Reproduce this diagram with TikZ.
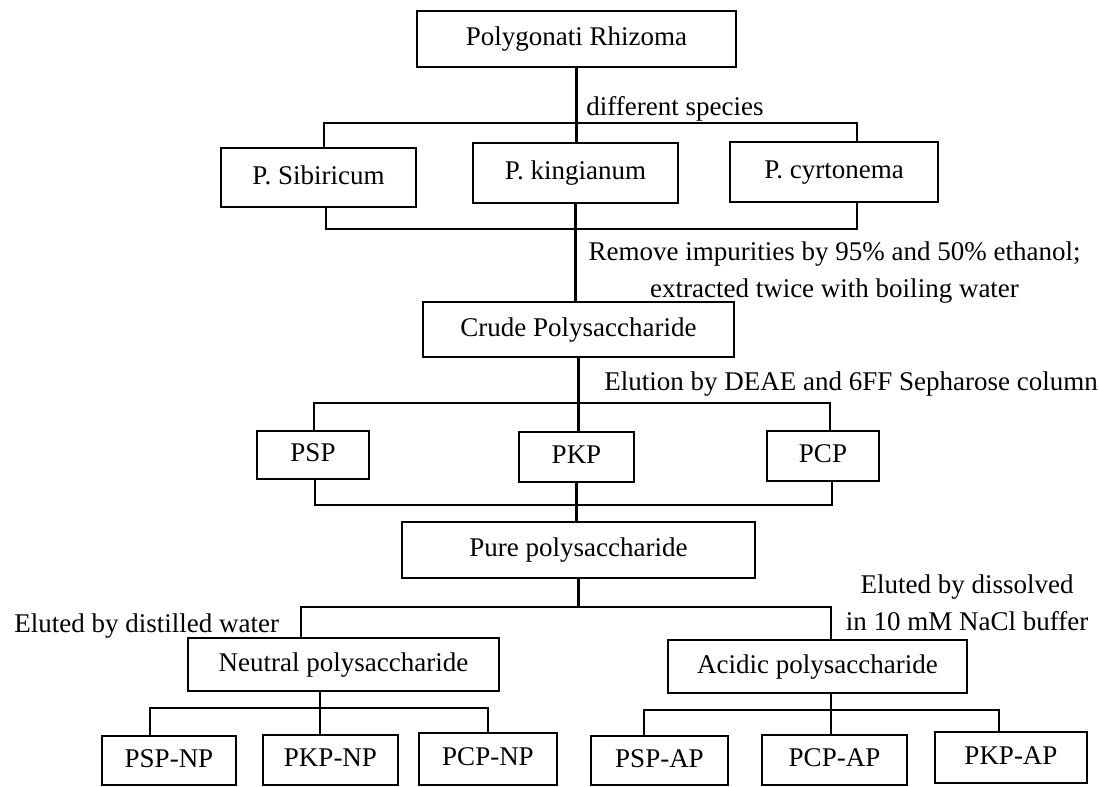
\documentclass[tikz,border=0pt]{standalone}
\usepackage{fontspec}
\setmainfont{Liberation Serif}
\usepackage{tikz}
\usetikzlibrary{positioning}
\tikzset{blk/.style={rectangle,draw,line width=1.4pt,inner sep=0pt,fill=white,
                     text height=0.66em,text depth=0pt},
         lbl/.style={inner sep=0pt,anchor=base west}}

\begin{document}
\begin{tikzpicture}[x=0.5pt,y=-0.5pt,line width=1.4pt,font=\fontsize{13.5}{18.5}\selectfont]
    \useasboundingbox (0,0) rectangle (1099,787);

    % boxes
    \node[blk,minimum width=159.5pt,minimum height=28pt] (rhiz) at (576.5,39) {Polygonati Rhizoma};
    \node[blk,minimum width=97.5pt,minimum height=29.5pt] (sib) at (318.5,177.5) {P. Sibiricum};
    \node[blk,minimum width=102.5pt,minimum height=30pt] (king) at (575.5,173) {P. kingianum};
    \node[blk,minimum width=104pt,minimum height=30pt] (cyrt) at (834,172) {P. cyrtonema};
    \node[blk,minimum width=155.5pt,minimum height=27.5pt] (crude) at (578.5,329.5) {Crude Polysaccharide};
    \node[blk,minimum width=56pt,minimum height=24pt] (psp) at (313,455) {PSP};
    \node[blk,minimum width=57.5pt,minimum height=25pt] (pkp) at (576.5,457) {PKP};
    \node[blk,minimum width=56pt,minimum height=25pt] (pcp) at (823,456) {PCP};
    \node[blk,minimum width=176.5pt,minimum height=28pt] (pure) at (578.5,550) {Pure polysaccharide};
    \node[blk,minimum width=155.5pt,minimum height=26.5pt] (neut) at (343.5,664.5) {Neutral polysaccharide};
    \node[blk,minimum width=149.5pt,minimum height=26.5pt] (acid) at (817.5,666.5) {Acidic polysaccharide};
    \node[blk,minimum width=67pt,minimum height=24.5pt] (pspnp) at (169,760.5) {PSP-NP};
    \node[blk,minimum width=67.5pt,minimum height=25pt] (pkpnp) at (330.5,760) {PKP-NP};
    \node[blk,minimum width=69pt,minimum height=26pt] (pcpnp) at (488,759) {PCP-NP};
    \node[blk,minimum width=68.5pt,minimum height=24.5pt] (pspap) at (659.5,760.5) {PSP-AP};
    \node[blk,minimum width=72.5pt,minimum height=25pt] (pcpap) at (834.5,760) {PCP-AP};
    \node[blk,minimum width=76pt,minimum height=25.5pt] (pkpap) at (1011,757.5) {PKP-AP};

    % labels
    \node[lbl] (l1) at (585,115) {different species};
    \node[inner sep=0pt,anchor=north,align=center] (l2) at (834.5,240)
        {Remove impurities by 95\% and 50\% ethanol;\\extracted twice with boiling water};
    \node[lbl] (l3) at (603,390) {Elution by DEAE and 6FF Sepharose column};
    \node[lbl] (l4) at (13,632) {Eluted by distilled water};
    \node[inner sep=0pt,anchor=north,align=center] (l5) at (967,573)
        {Eluted by dissolved\\in 10 mM NaCl buffer};

    % branch points
    \coordinate (s1) at (324,123);
    \coordinate (c1) at (857,123);
    \coordinate (s2) at (326,229);
    \coordinate (c2) at (857,229);
    \coordinate (p1) at (314,403);
    \coordinate (q1) at (830,403);
    \coordinate (p2) at (315,505);
    \coordinate (q2) at (832,505);
    \coordinate (n1) at (301,607);
    \coordinate (a1) at (831,607);
    \coordinate (nx) at (320,708);
    \coordinate (n2) at (150,708);
    \coordinate (n3) at (488,708);
    \coordinate (ax) at (831,710);
    \coordinate (a2) at (644,710);
    \coordinate (a3) at (999,710);

    % connectors
    \draw (rhiz.south) -- (rhiz.south |- king.north);
    \draw (s1 |- sib.north) -- (s1) -- (c1) -- (c1 |- cyrt.north);
    \draw (s2 |- sib.south) -- (s2) -- (c2) -- (c2 |- cyrt.south);
    \draw (king.south) -- (king.south |- crude.north);
    \draw (crude.south) -- (crude.south |- pkp.north);
    \draw (p1 |- psp.north) -- (p1) -- (q1) -- (q1 |- pcp.north);
    \draw (p2 |- psp.south) -- (p2) -- (q2) -- (q2 |- pcp.south);
    \draw (pkp.south) -- (pkp.south |- pure.north);
    \draw (pure.south) -- (pure.south |- n1);
    \draw (n1 |- neut.north) -- (n1) -- (a1) -- (a1 |- acid.north);
    \draw (nx |- neut.south) -- (nx |- pkpnp.north);
    \draw (n2 |- pspnp.north) -- (n2) -- (n3) -- (n3 |- pcpnp.north);
    \draw (ax |- acid.south) -- (ax |- pcpap.north);
    \draw (a2 |- pspap.north) -- (a2) -- (a3) -- (a3 |- pkpap.north);
\end{tikzpicture}
\end{document}
